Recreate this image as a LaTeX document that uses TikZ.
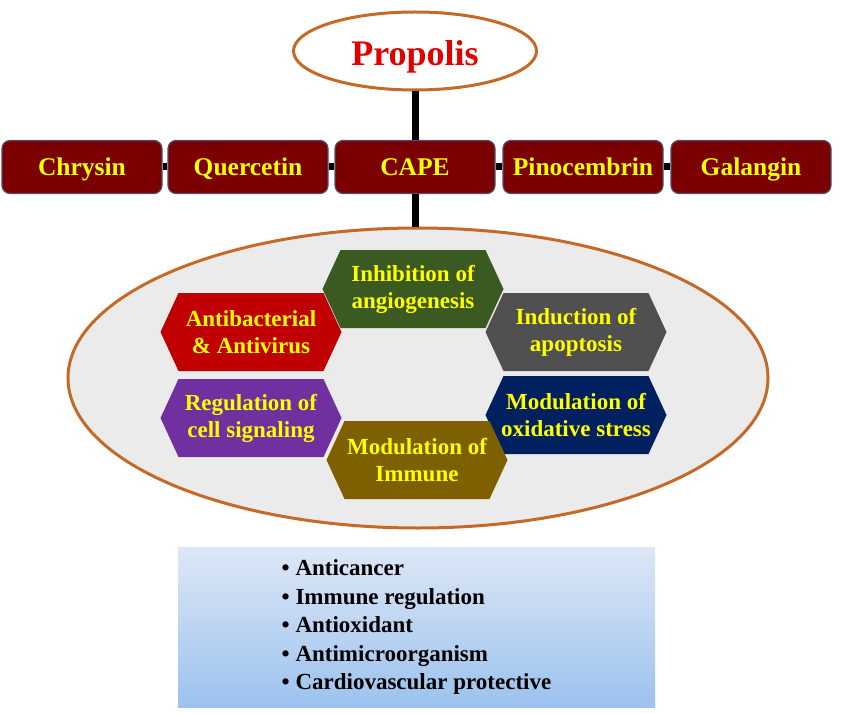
\documentclass[tikz,border=0pt]{standalone}
\usepackage{fontspec}
\setmainfont{Liberation Serif}
\usetikzlibrary{shapes.geometric,calc}
\definecolor{maroon}{HTML}{7B0000}
\definecolor{edge}{HTML}{4F4F6F}
\definecolor{rim}{HTML}{C46A28}
\definecolor{title}{HTML}{E00000}
\definecolor{hexgreen}{HTML}{3A5A22}
\definecolor{hexred}{HTML}{C00000}
\definecolor{hexgrey}{HTML}{505050}
\definecolor{hexpurple}{HTML}{7030A0}
\definecolor{hexnavy}{HTML}{002060}
\definecolor{hexolive}{HTML}{7F6000}
\definecolor{yel}{HTML}{FFFF00}
\definecolor{skytop}{HTML}{DDE7F6}
\definecolor{skybot}{HTML}{9CC2EE}
\tikzset{every node/.style={font=\bfseries,align=center},
cmpd/.style={draw=edge,line width=1.2pt,fill=maroon,rounded corners=8pt,text=yel,
  minimum width=160pt,minimum height=53pt,inner sep=0pt,text height=18pt,text depth=0pt,
  font=\fontsize{25.5}{30}\selectfont\bfseries},
hexlabel/.style={text=yel,inner sep=0pt,font=\fontsize{23}{27}\selectfont\bfseries},
link/.style={line width=7pt,draw=black}}
% hexagon: name, centre, fill, text
\newcommand\hexnode[4]{%
  \fill[#3] ($(#2)+(-90.5,0)$) -- ++(18,-39) -- ++(145,0) -- ++(18,39) -- ++(-18,39) -- ++(-145,0) -- cycle;
  \node[hexlabel] (#1) at (#2) {#4};}

\begin{document}
\begin{tikzpicture}[x=1pt,y=-1pt]
\useasboundingbox (0,0) rectangle (851,714);
\node[ellipse,draw=rim,line width=3pt,fill=white,minimum width=243pt,minimum height=78pt,inner sep=0pt,
  text height=30pt,text depth=0pt,text=title,font=\fontsize{36}{40}\selectfont\bfseries] (prop) at (415,51) {Propolis};
\node[cmpd] (chry) at (82,167) {Chrysin};
\node[cmpd] (quer) at (248,167) {Quercetin};
\node[cmpd] (cape) at (415,167) {CAPE};
\node[cmpd] (pino) at (583,167) {Pinocembrin};
\node[cmpd] (gala) at (751,167) {Galangin};
\draw[link] (chry.east)--(quer.west);
\draw[link] (quer.east)--(cape.west);
\draw[link] (cape.east)--(pino.west);
\draw[link] (pino.east)--(gala.west);
\draw[link] (prop.south)--(cape.north);
\node[ellipse,draw=rim,line width=3pt,fill=black!8,minimum width=700pt,minimum height=300pt,inner sep=0pt] (act) at (418,378) {};
\draw[link] (cape.south)--(cape.south|-act.north);
\hexnode{angi}{413,289}{hexgreen}{Inhibition of\\angiogenesis}
\hexnode{anti}{251,332}{hexred}{Antibacterial\\\& Antivirus}
\hexnode{apop}{576,332}{hexgrey}{Induction of\\apoptosis}
\hexnode{sign}{251,418}{hexpurple}{Regulation of\\cell signaling}
\hexnode{oxid}{576,415}{hexnavy}{Modulation of\\oxidative stress}
\hexnode{immu}{417,460}{hexolive}{Modulation of\\Immune}
\node[top color=skytop,bottom color=skybot,minimum width=477pt,minimum height=160pt,
  align=left,font=\fontsize{23}{28.5}\selectfont\bfseries] (eff) at (416.5,627)
{\textbullet\ Anticancer\\\textbullet\ Immune regulation\\\textbullet\ Antioxidant\\
\textbullet\ Antimicroorganism\\\textbullet\ Cardiovascular protective};
\end{tikzpicture}
\end{document}
